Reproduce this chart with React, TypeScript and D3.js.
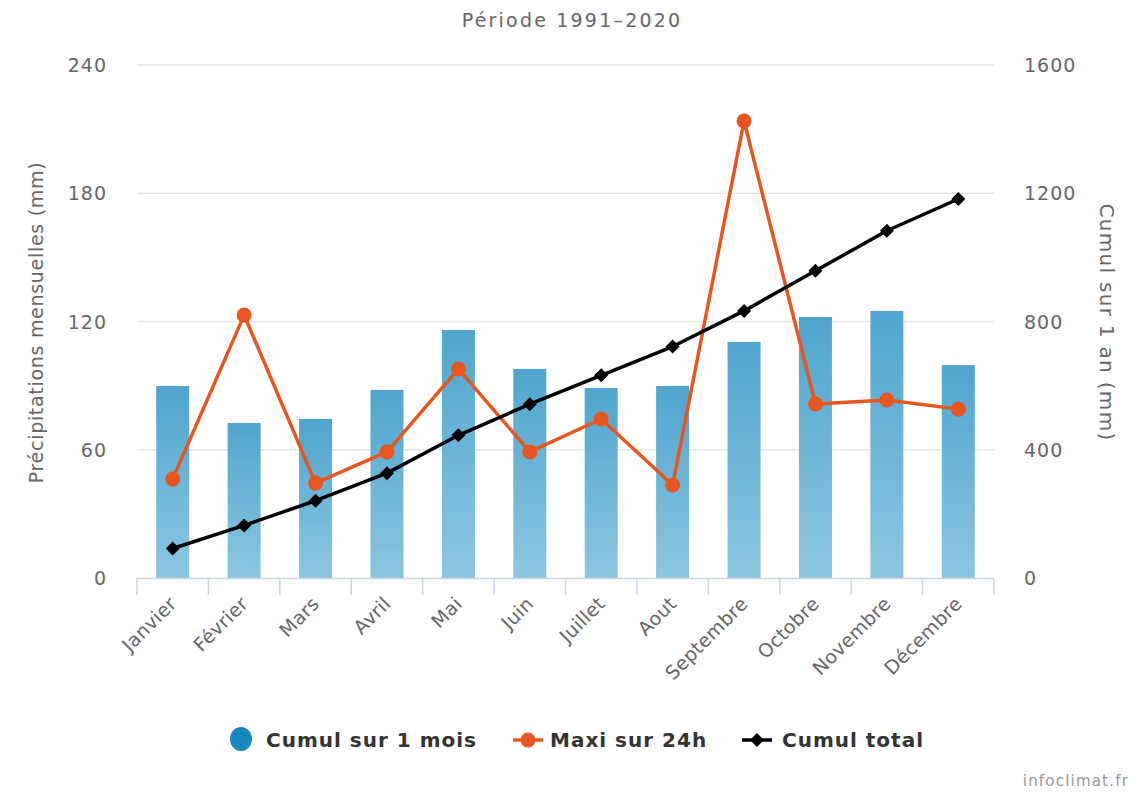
import * as d3 from "d3";
import React from "react";

const months = ["Janvier", "Février", "Mars", "Avril", "Mai", "Juin", "Juillet", "Aout", "Septembre", "Octobre", "Novembre", "Décembre"];
const cumulMois = [89.8, 72.5, 74.4, 88, 116, 97.8, 88.9, 89.8, 110.4, 122.1, 124.9, 99.6];
const maxi24h = [46.3, 123, 44.4, 59, 97.8, 59, 74.4, 43.5, 213.8, 81.4, 83.3, 79];
const cumulTotal = [92, 164, 241, 327, 445, 542, 632, 722, 833, 958, 1083, 1182];
const leftTicks = [0, 60, 120, 180, 240];
const rightTicks = [0, 400, 800, 1200, 1600];

const W = 1144;
const H = 793;
const plot = { left: 137, right: 994, top: 65, bottom: 578 };
const font = "'DejaVu Sans', Verdana, sans-serif";
const orange = "#e8561f";

export default function App() {
  const x = d3.scaleBand<string>().domain(months).range([plot.left, plot.right]);
  const yL = d3.scaleLinear().domain([0, 240]).range([plot.bottom, plot.top]);
  const yR = d3.scaleLinear().domain([0, 1600]).range([plot.bottom, plot.top]);
  const bw = 33;
  const cx = (m: string) => (x(m) ?? 0) + x.bandwidth() / 2;

  const maxiLine = d3.line<number>().x((_, i) => cx(months[i])).y((d) => yL(d))(maxi24h) ?? "";
  const totalLine = d3.line<number>().x((_, i) => cx(months[i])).y((d) => yR(d))(cumulTotal) ?? "";
  const diamond = (r: number) => `M0,${-r}L${r},0L0,${r}L${-r},0Z`;
  const boundaries = [...months.map((m) => x(m) ?? 0), plot.right];

  return (
    <svg width={W} height={H} style={{ position: "absolute", left: 0, top: 0, fontFamily: font }}>
      <defs>
        <linearGradient id="barGrad" x1="0" y1="0" x2="0" y2="1">
          <stop offset="0" stopColor="#4fa5ce" />
          <stop offset="1" stopColor="#8cc6e0" />
        </linearGradient>
      </defs>
      <rect width={W} height={H} fill="#fff" />
      <text x={W / 2} y={27} textAnchor="middle" fontSize={19} letterSpacing={2.2} fill="#666">Période 1991–2020</text>

      {leftTicks.filter((t) => t > 0).map((t) => (
        <line key={t} x1={plot.left} x2={plot.right} y1={yL(t)} y2={yL(t)} stroke="#e6e6e6" strokeWidth={1.5} />
      ))}
      {leftTicks.map((t) => (
        <text key={t} x={107} y={yL(t) + 7} textAnchor="end" fontSize={19} letterSpacing={1} fill="#666">{t}</text>
      ))}
      {rightTicks.map((t) => (
        <text key={t} x={1024} y={yR(t) + 7} textAnchor="start" fontSize={19} letterSpacing={1} fill="#666">{t}</text>
      ))}
      <text transform={`translate(43,${(plot.top + plot.bottom) / 2 + 1}) rotate(-90)`} textAnchor="middle" fontSize={19} letterSpacing={0.7} fill="#666">Précipitations mensuelles (mm)</text>
      <text transform={`translate(1100,${(plot.top + plot.bottom) / 2 + 1}) rotate(90)`} textAnchor="middle" fontSize={20} letterSpacing={1.3} fill="#666">Cumul sur 1 an (mm)</text>

      {months.map((m, i) => (
        <rect key={m} x={cx(m) - bw / 2} y={yL(cumulMois[i])} width={bw} height={plot.bottom - yL(cumulMois[i])} fill="url(#barGrad)" />
      ))}

      <line x1={plot.left} x2={plot.right} y1={plot.bottom + 0.5} y2={plot.bottom + 0.5} stroke="#ccd6eb" strokeWidth={1.5} />
      {boundaries.map((b, i) => (
        <line key={i} x1={b} x2={b} y1={plot.bottom} y2={plot.bottom + 17} stroke="#ccd6eb" strokeWidth={1.5} />
      ))}
      {months.map((m) => (
        <text key={m} transform={`translate(${cx(m) + 5},${plot.bottom + 27}) rotate(-45)`} textAnchor="end" fontSize={19} letterSpacing={0.3} fill="#666">{m}</text>
      ))}

      <path d={maxiLine} fill="none" stroke={orange} strokeWidth={3.5} strokeLinejoin="round" />
      {maxi24h.map((v, i) => (
        <circle key={i} cx={cx(months[i])} cy={yL(v)} r={7.5} fill={orange} />
      ))}
      <path d={totalLine} fill="none" stroke="#000" strokeWidth={3.5} strokeLinejoin="round" />
      {cumulTotal.map((v, i) => (
        <path key={i} d={diamond(7)} transform={`translate(${cx(months[i])},${yR(v)})`} fill="#000" />
      ))}

      <g fontSize={20} fontWeight="bold" fill="#333" letterSpacing={1}>
        <ellipse cx={241} cy={739} rx={11} ry={12} fill="#1a87be" />
        <text x={266} y={747}>Cumul sur 1 mois</text>
        <line x1={513} x2={543} y1={740} y2={740} stroke={orange} strokeWidth={3.5} />
        <circle cx={528} cy={740} r={7.5} fill={orange} />
        <text x={550} y={747}>Maxi sur 24h</text>
        <line x1={742} x2={772} y1={740} y2={740} stroke="#000" strokeWidth={3.5} />
        <path d={diamond(7)} transform="translate(757,740)" fill="#000" />
        <text x={782} y={747}>Cumul total</text>
      </g>

      <text x={1129} y={786} textAnchor="end" fontSize={15} letterSpacing={1.2} fill="#999">infoclimat.fr</text>
    </svg>
  );
}
